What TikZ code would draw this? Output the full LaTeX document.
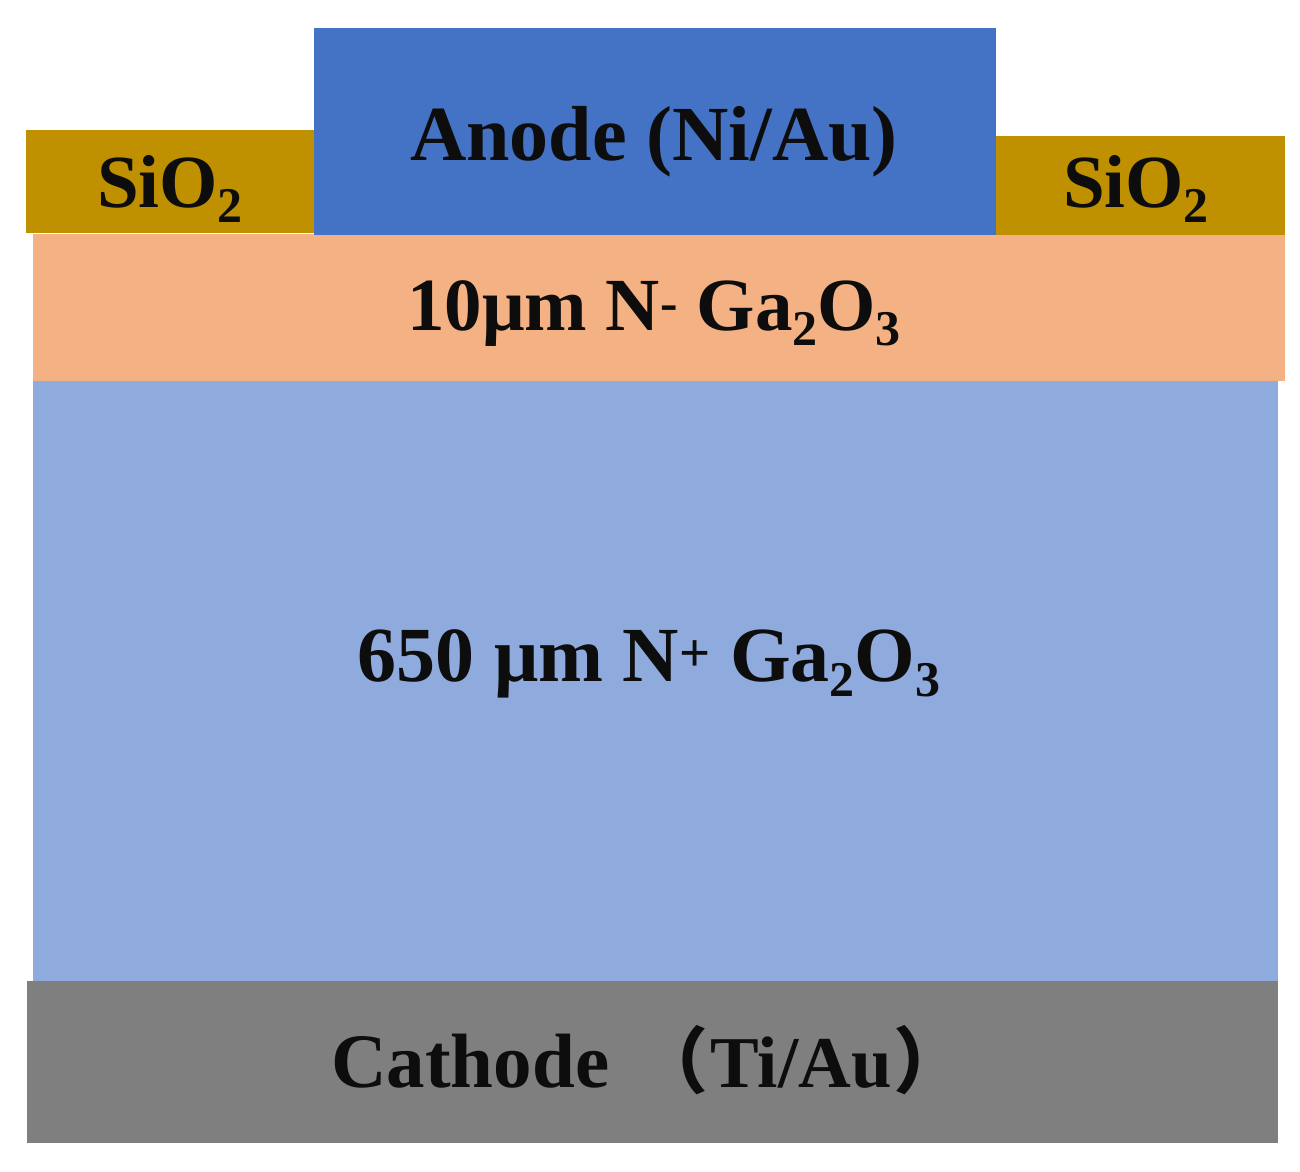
\documentclass[tikz,border=0pt]{standalone}
\usepackage{fontspec}
\setmainfont{Liberation Serif}
\newfontfamily\cjk{Noto Sans CJK SC}
\definecolor{manode}{HTML}{4472C4}
\definecolor{moxide}{HTML}{BF9000}
\definecolor{mdrift}{HTML}{F4B183}
\definecolor{msub}{HTML}{8FAADC}
\definecolor{mcath}{HTML}{7F7F7F}
\newcommand{\msb}[1]{\raisebox{-15pt}{\fontsize{50}{50}\selectfont #1}}
\newcommand{\mfs}[1]{\fontsize{#1}{#1}\selectfont}
\begin{document}
\begin{tikzpicture}[x=1pt,y=-1pt,every node/.style={inner sep=0pt,anchor=base,font=\bfseries,text=black!95}]
    \useasboundingbox (0,0) rectangle (1300,1171);
    \fill[white] (0,0) rectangle (1300,1171);
    \fill[mcath] (27,981) rectangle (1278,1143);
    \fill[msub] (33,381) rectangle (1278,981);
    \fill[mdrift] (33,234) rectangle (1285,381);
    \fill[moxide] (26,130) rectangle (314,233);
    \fill[moxide] (996,136) rectangle (1285,235);
    \fill[manode] (314,28) rectangle (996,235);
    \node (manodetext) at (654,160) {\mfs{78}Anode (Ni/Au)};
    \node (moxl) at (170,207) {\mfs{75}SiO\msb{2}};
    \node (moxr) at (1136,207) {\mfs{75}SiO\msb{2}};
    \node (mdrifttext) at (654,330) {\mfs{75}10μm N\textsuperscript{-} Ga\msb{2}O\msb{3}};
    \node (msubtext) at (649,681) {\mfs{78}650 μm N\textsuperscript{+} Ga\msb{2}O\msb{3}};
    \node[anchor=base west] (mcathtext) at (331,1087) {\mfs{77}Cathode\ \hspace{8pt}{\cjk\mfs{72}（}\hspace{2pt}\mfs{73}Ti/Au\hspace{2pt}{\cjk\mfs{72}）}};
\end{tikzpicture}
\end{document}
